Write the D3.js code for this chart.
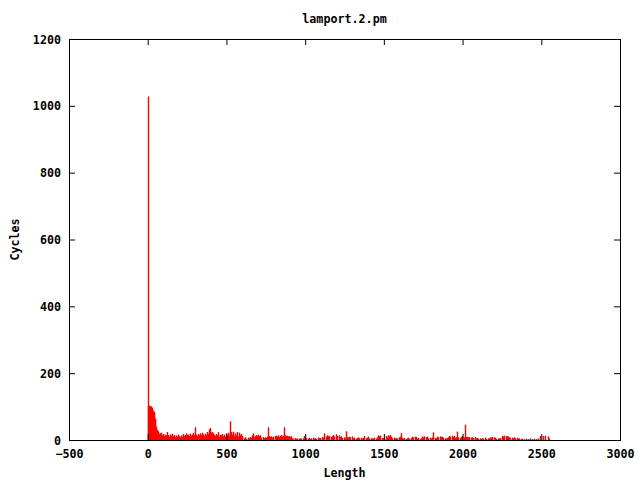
<!DOCTYPE html>
<html><head><meta charset="utf-8">
<script src="https://cdn.jsdelivr.net/npm/d3@7"></script>
<style>body{margin:0;background:#fff}svg text{font-family:"DejaVu Sans Mono","Liberation Mono",monospace;font-weight:bold;font-size:11.7px;fill:#000}</style>
</head><body>
<script>
const title = "lamport.2.pm";
const xLabel = "Length";
const yLabel = "Cycles";
const xTicks = [-500,0,500,1000,1500,2000,2500,3000];
const yTicks = [0,200,400,600,800,1000,1200];
const lengths = [0,2,5,8,11,14,17,20,23,26,29,32,35,38,41,44,47,50,53,56,60,64,68,72,76,80,86,92,98,104,110,116,120,126,132,138,144,150,156,162,168,174,180,186,192,198,204,210,216,222,228,234,240,246,252,258,264,270,276,282,288,294,300,306,312,318,324,330,336,342,348,354,360,366,372,378,384,390,396,402,408,414,420,426,432,438,445,450,456,462,468,474,480,486,492,498,504,510,516,522,525,530,536,542,548,554,560,566,572,578,584,590,596,602,610,618,626,634,642,650,658,664,669,676,684,690,696,702,708,715,722,730,738,746,752,758,766,772,778,784,790,798,806,812,818,824,830,836,842,848,854,860,866,872,878,884,890,896,902,910,918,926,934,942,950,958,966,975,984,994,1000,1008,1016,1024,1032,1040,1048,1056,1064,1072,1080,1088,1096,1104,1112,1122,1130,1138,1146,1154,1162,1170,1178,1186,1196,1204,1212,1220,1228,1236,1244,1250,1260,1266,1272,1280,1288,1296,1304,1312,1320,1328,1336,1344,1352,1360,1368,1376,1384,1392,1400,1408,1416,1424,1432,1440,1448,1456,1463,1470,1478,1486,1494,1502,1514,1520,1527,1534,1540,1546,1554,1562,1570,1578,1586,1594,1600,1607,1614,1622,1630,1638,1646,1654,1662,1670,1680,1688,1696,1705,1712,1720,1728,1736,1743,1750,1758,1766,1775,1782,1790,1798,1806,1814,1822,1830,1838,1846,1854,1862,1870,1878,1886,1894,1902,1908,1914,1922,1930,1938,1946,1954,1960,1967,1974,1982,1990,1999,2007,2014,2020,2028,2036,2044,2052,2060,2068,2076,2084,2092,2100,2108,2116,2124,2132,2143,2150,2160,2168,2175,2182,2190,2198,2207,2214,2222,2230,2240,2251,2258,2266,2274,2282,2290,2296,2304,2312,2320,2328,2336,2344,2352,2360,2370,2380,2392,2404,2416,2428,2440,2452,2466,2480,2494,2512,2525,2540,2552];
const cycles = [1028,100,102,98,103,100,96,101,94,97,90,88,86,84,80,64,62,40,34,30,28,22,26,18,20,16,22,14,18,12,16,14,24,12,15,10,17,13,19,11,15,9,14,10,16,12,8,14,10,18,12,15,11,20,14,17,12,19,13,16,22,14,38,16,12,18,14,20,15,22,13,17,11,19,14,24,18,32,36,22,24,20,16,12,18,14,24,10,16,12,14,18,11,16,9,20,12,22,14,18,56,24,16,25,12,20,14,24,10,22,14,18,8,12,5,8,4,7,5,9,6,14,20,8,12,15,11,16,12,14,7,9,5,8,6,10,38,12,9,11,7,10,12,8,13,10,14,9,12,15,10,13,38,14,11,13,10,12,9,11,5,4,6,3,5,4,6,3,5,12,4,6,4,7,3,5,7,4,6,3,8,5,6,9,7,20,10,14,11,13,9,12,15,10,17,12,14,9,11,6,8,5,26,9,7,10,8,11,5,7,4,6,8,5,7,4,6,12,5,7,10,4,6,3,5,7,4,8,14,12,13,6,5,7,12,6,14,11,15,10,5,7,4,6,5,8,10,20,6,4,6,3,5,7,4,6,10,8,10,9,4,6,3,5,10,8,11,9,10,5,7,4,8,23,6,5,10,8,11,9,10,7,5,4,6,8,12,10,13,9,12,6,8,25,8,6,9,12,8,46,9,10,8,9,7,8,6,9,5,6,4,5,3,6,4,7,3,5,4,8,7,9,8,7,3,5,4,6,12,10,13,11,12,10,9,5,7,6,8,5,7,4,5,3,4,3,4,3,5,3,4,3,5,12,12,13,11,4];

const W = 640, H = 480;
const m = {left: 69, right: 620, top: 39, bottom: 440};
const svg = d3.select("body").append("svg").attr("width", W).attr("height", H);

const x = d3.scaleLinear().domain([-500, 3000]).range([m.left, m.right]);
const y = d3.scaleLinear().domain([0, 1200]).range([m.bottom, m.top]);

const data = lengths.map((l, i) => ({l, c: cycles[i]}));

// impulses
svg.append("g").selectAll("line").data(data).join("line")
  .attr("x1", d => Math.round(x(d.l)) + 0.5).attr("x2", d => Math.round(x(d.l)) + 0.5)
  .attr("y1", y(0)).attr("y2", d => y(d.c))
  .attr("stroke", "#ff0000").attr("stroke-width", 1.4);

// axes (ticks inward, mirrored)
const tl = 6;
const bottomAx = svg.append("g").attr("transform", `translate(0,${m.bottom})`)
  .call(d3.axisBottom(x).tickValues(xTicks).tickSize(-tl).tickPadding(4 + tl).tickFormat(d3.format("d")));
const topAx = svg.append("g").attr("transform", `translate(0,${m.top})`)
  .call(d3.axisTop(x).tickValues(xTicks).tickSize(-tl).tickFormat(""));
const leftAx = svg.append("g").attr("transform", `translate(${m.left},0)`)
  .call(d3.axisLeft(y).tickValues(yTicks).tickSize(-tl).tickPadding(2 + tl).tickFormat(d3.format("d")));
const rightAx = svg.append("g").attr("transform", `translate(${m.right},0)`)
  .call(d3.axisRight(y).tickValues(yTicks).tickSize(-tl).tickFormat(""));
[bottomAx, topAx, leftAx, rightAx].forEach(g => {
  g.select(".domain").remove();
  g.selectAll("line").attr("stroke", "#000");
  g.selectAll("text").attr("font-family", null).attr("font-size", null);
});
leftAx.selectAll("text").attr("dy", "0.35em");

svg.append("rect").attr("x", m.left + 0.5).attr("y", m.top + 0.5)
  .attr("width", m.right - m.left).attr("height", m.bottom - m.top)
  .attr("fill", "none").attr("stroke", "#000").attr("stroke-width", 1);

svg.append("text").attr("x", (m.left + m.right) / 2).attr("y", 23).attr("text-anchor", "middle").text(title);
svg.append("text").attr("x", (m.left + m.right) / 2).attr("y", 477).attr("text-anchor", "middle").text(xLabel);
svg.append("text").attr("transform", `translate(19,${(m.top + m.bottom) / 2}) rotate(-90)`).attr("text-anchor", "middle").text(yLabel);
</script>
</body></html>
